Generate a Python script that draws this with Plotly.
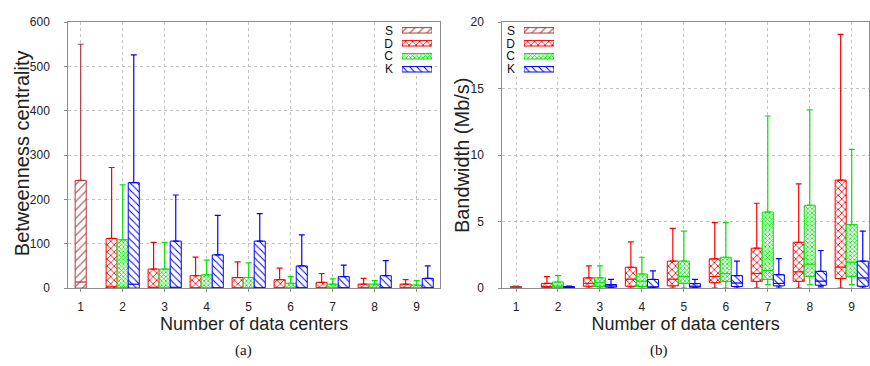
import plotly.graph_objects as go

# ---------------- data ----------------
s_categories = [1]
categories = [2, 3, 4, 5, 6, 7, 8, 9]
x_tick_values = [1, 2, 3, 4, 5, 6, 7, 8, 9]
x_tick_labels = ["1", "2", "3", "4", "5", "6", "7", "8", "9"]
legend_labels = ["S", "D", "C", "K"]
legend_length = [1, 1, 1, 1]

# (a) Betweenness centrality: min, q1, median, q3, max
a_S_min = [0]
a_S_q1 = [0]
a_S_med = [14]
a_S_q3 = [243]
a_S_max = [550]

a_D_min = [0, 0, 0, 0, 0, 0, 0, 0]
a_D_q1 = [0, 0, 0, 0, 0, 0, 0, 0]
a_D_med = [3, 2, 1, 1, 1, 1, 1, 1]
a_D_q3 = [112, 43, 28, 24, 19, 13, 9, 9]
a_D_max = [272, 103, 70, 59, 45, 33, 22, 19]

a_C_min = [0, 0, 0, 0, 0, 0, 0, 0]
a_C_q1 = [0, 0, 0, 0, 0, 0, 0, 0]
a_C_med = [2, 1, 1, 1, 1, 1, 1, 1]
a_C_q3 = [109, 43, 30, 24, 11, 9, 9, 7]
a_C_max = [233, 103, 63, 57, 26, 21, 17, 17]

a_K_min = [0, 0, 0, 0, 0, 0, 0, 0]
a_K_q1 = [0, 0, 0, 0, 0, 0, 0, 0]
a_K_med = [9, 2, 1, 1, 1, 1, 1, 1]
a_K_q3 = [238, 106, 75, 106, 50, 26, 28, 22]
a_K_max = [526, 210, 164, 168, 120, 52, 62, 50]

# (b) Bandwidth (Mb/s): min, q1, median, q3, max
b_S_min = [0]
b_S_q1 = [0]
b_S_med = [0.05]
b_S_q3 = [0.12]
b_S_max = [0.15]

b_D_min = [0, 0, 0, 0, 0, 0, 0, 0]
b_D_q1 = [0.06, 0.14, 0.14, 0.17, 0.41, 0.51, 0.51, 0.72]
b_D_med = [0.12, 0.36, 0.68, 0.68, 0.87, 1.11, 1.23, 1.59]
b_D_q3 = [0.36, 0.77, 1.57, 2.03, 2.2, 3.0, 3.45, 8.12]
b_D_max = [0.87, 1.67, 3.48, 4.49, 4.93, 6.38, 7.83, 19.08]

b_C_min = [0, 0, 0, 0, 0, 0.27, 0.27, 0.27]
b_C_q1 = [0.05, 0.12, 0.12, 0.36, 0.51, 0.65, 0.89, 0.89]
b_C_med = [0.17, 0.41, 0.53, 0.87, 1.09, 1.33, 1.81, 1.96]
b_C_q3 = [0.46, 0.77, 1.06, 2.03, 2.32, 5.72, 6.23, 4.78]
b_C_max = [0.94, 1.67, 2.32, 4.28, 4.93, 12.94, 13.4, 10.43]

b_K_min = [0, 0, 0, 0, 0, 0, 0.1, 0]
b_K_q1 = [0.02, 0.07, 0.07, 0.07, 0.12, 0.17, 0.22, 0.14]
b_K_med = [0.05, 0.17, 0.1, 0.15, 0.39, 0.36, 0.53, 0.77]
b_K_q3 = [0.12, 0.27, 0.65, 0.34, 0.94, 1.01, 1.26, 2.03]
b_K_max = [0.15, 0.65, 1.3, 0.65, 2.03, 2.22, 2.83, 4.28]

# ---------------- styles ----------------
FONT = "Liberation Sans, Arial, sans-serif"
SERIF = "Liberation Serif, Times New Roman, serif"
TXT = "#222222"
STY = {
    "S": dict(color="#b03a3a", shape="/", size=6, solidity=0.18, group="C"),
    "D": dict(color="#ff0000", shape="x", size=5, solidity=0.3, group="D"),
    "C": dict(color="#00e600", shape="x", size=3, solidity=0.45, group="C"),
    "K": dict(color="#0000ff", shape="\\", size=5, solidity=0.2, group="K"),
}

fig = go.Figure()


def pattern(st):
    return dict(shape=st["shape"], size=st["size"], solidity=st["solidity"],
                fgcolor=st["color"], bgcolor="white", fillmode="replace")


def add_box(name, x, mn, q1, med, q3, mx, xa, ya, ag):
    st = STY[name]
    n = len(x)
    common = dict(x=x, xaxis=xa, yaxis=ya, offsetgroup=st["group"],
                  alignmentgroup=ag, showlegend=False, hoverinfo="skip")
    # lower whisker (invisible bar from min to q1)
    fig.add_trace(go.Bar(
        base=mn, y=[b - a for a, b in zip(mn, q1)],
        marker=dict(color="rgba(0,0,0,0)", line=dict(width=0)),
        error_y=dict(type="data", symmetric=False, array=[0] * n,
                     arrayminus=[b - a for a, b in zip(mn, q1)],
                     color=st["color"], thickness=1.2, width=3),
        **common))
    # lower half of the box (q1 -> median)
    fig.add_trace(go.Bar(
        base=q1, y=[b - a for a, b in zip(q1, med)],
        marker=dict(color="white", pattern=pattern(st),
                    line=dict(color=st["color"], width=1)),
        **common))
    # upper half of the box (median -> q3) with upper whisker
    fig.add_trace(go.Bar(
        base=med, y=[b - a for a, b in zip(med, q3)],
        marker=dict(color="white", pattern=pattern(st),
                    line=dict(color=st["color"], width=1)),
        error_y=dict(type="data", symmetric=False,
                     array=[b - a for a, b in zip(q3, mx)], arrayminus=[0] * n,
                     color=st["color"], thickness=1.2, width=3),
        **common))


# order matters for group positions: D (left), C (centre), K (right)
add_box("D", categories, a_D_min, a_D_q1, a_D_med, a_D_q3, a_D_max, "x", "y", "a")
add_box("C", categories, a_C_min, a_C_q1, a_C_med, a_C_q3, a_C_max, "x", "y", "a")
add_box("S", s_categories, a_S_min, a_S_q1, a_S_med, a_S_q3, a_S_max, "x", "y", "a")
add_box("K", categories, a_K_min, a_K_q1, a_K_med, a_K_q3, a_K_max, "x", "y", "a")

add_box("D", categories, b_D_min, b_D_q1, b_D_med, b_D_q3, b_D_max, "x2", "y2", "b")
add_box("C", categories, b_C_min, b_C_q1, b_C_med, b_C_q3, b_C_max, "x2", "y2", "b")
add_box("S", s_categories, b_S_min, b_S_q1, b_S_med, b_S_q3, b_S_max, "x2", "y2", "b")
add_box("K", categories, b_K_min, b_K_q1, b_K_med, b_K_q3, b_K_max, "x2", "y2", "b")

# legends as small inset axes
for xa, ya in (("x3", "y3"), ("x4", "y4")):
    fig.add_trace(go.Bar(
        x=legend_length, y=legend_labels, orientation="h", xaxis=xa, yaxis=ya,
        width=0.42, showlegend=False, hoverinfo="skip",
        marker=dict(
            color="white",
            pattern=dict(shape=[STY[k]["shape"] for k in legend_labels],
                         size=[STY[k]["size"] for k in legend_labels],
                         solidity=[STY[k]["solidity"] for k in legend_labels],
                         fgcolor=[STY[k]["color"] for k in legend_labels],
                         bgcolor="white", fillmode="replace"),
            line=dict(color=[STY[k]["color"] for k in legend_labels], width=1))))

W, H = 870, 366
def px(x0, x1):
    return [x0 / W, x1 / W]
def py(top, bottom):
    return [1 - bottom / H, 1 - top / H]

AX = dict(showline=True, mirror=True, linecolor="#8c8c8c", linewidth=1,
          ticks="outside", ticklen=3, tickcolor="#8c8c8c",
          showgrid=True, gridcolor="#c4c4c4", griddash="dot", gridwidth=1,
          zeroline=False, tickfont=dict(family=FONT, size=12, color=TXT))

xcommon = dict(AX, tickmode="array", tickvals=x_tick_values,
               ticktext=x_tick_labels, ticklabelstandoff=4,
               title=dict(text="Number of data centers",
                          font=dict(family=FONT, size=18, color=TXT), standoff=2))

LEGY = dict(type="category", categoryorder="array", categoryarray=legend_labels,
            tickmode="array", tickvals=legend_labels, ticktext=legend_labels,
            autorange="reversed", showgrid=False, showline=False, ticks="",
            ticklabelstandoff=8, tickfont=dict(family=FONT, size=12, color="#111"))

fig.update_layout(
    width=W, height=H, margin=dict(l=0, r=0, t=0, b=0),
    paper_bgcolor="white", plot_bgcolor="white", hovermode=False,
    barmode="group", bargap=0.21, bargroupgap=0,
    xaxis=dict(xcommon, domain=px(68.3, 440), range=[0.705, 9.555], anchor="y"),
    yaxis=dict(AX, domain=py(15.7, 292.3), range=[0, 600], dtick=100, anchor="x",
               ticklabelstandoff=12),
    xaxis2=dict(xcommon, domain=px(502.3, 869), range=[0.673, 9.412], anchor="y2"),
    yaxis2=dict(AX, domain=py(15.7, 292.3), range=[0, 20], dtick=5, anchor="x2",
                ticklabelstandoff=12),
    xaxis3=dict(domain=px(402, 432), range=[0, 1], visible=False, anchor="y3"),
    yaxis3=dict(LEGY, domain=py(17.5, 71.5), anchor="x3"),
    xaxis4=dict(domain=px(524, 554), range=[0, 1], visible=False, anchor="y4"),
    yaxis4=dict(LEGY, domain=py(17.5, 71.5), anchor="x4"),
    shapes=[
        dict(type="rect", xref="x", yref="y", x0=8.10, x1=9.41, y0=482, y1=600,
             fillcolor="white", line=dict(width=0), layer="between"),
        dict(type="rect", xref="x2", yref="y2", x0=0.69, x1=2.05, y0=15.9, y1=20,
             fillcolor="white", line=dict(width=0), layer="between"),
    ],
    annotations=[
        dict(text="Betweenness centrality", xref="paper", yref="paper",
             x=22 / W, y=1 - 152 / H, xanchor="center", yanchor="middle",
             textangle=-90, showarrow=False,
             font=dict(family=FONT, size=20, color=TXT)),
        dict(text="Bandwidth (Mb/s)", xref="paper", yref="paper",
             x=462 / W, y=1 - 154 / H, xanchor="center", yanchor="middle",
             textangle=-90, showarrow=False,
             font=dict(family=FONT, size=20, color=TXT)),
        dict(text="(a)", xref="paper", yref="paper", x=233 / W, y=1 - 357 / H,
             yanchor="middle", showarrow=False,
             font=dict(family=SERIF, size=15, color="#111")),
        dict(text="(b)", xref="paper", yref="paper", x=670 / W, y=1 - 357 / H,
             yanchor="middle", showarrow=False,
             font=dict(family=SERIF, size=15, color="#111")),
    ],
)

fig.write_html("out.html", config={"staticPlot": True},
               post_script="document.body.style.margin='0';")
